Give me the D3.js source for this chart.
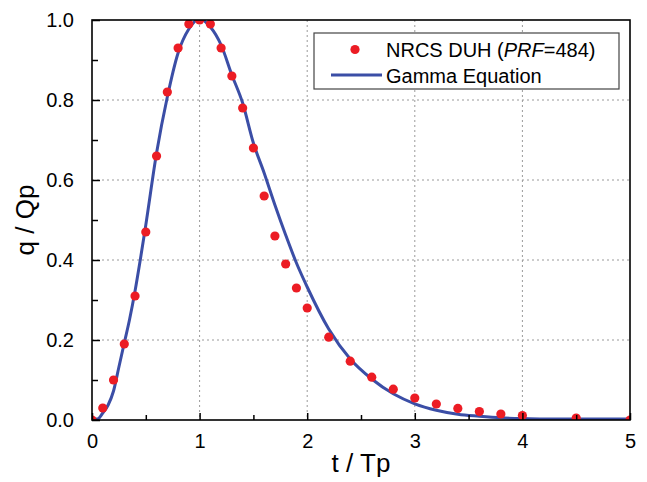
<!DOCTYPE html>
<html>
<head>
<meta charset="utf-8">
<script src="https://cdn.jsdelivr.net/npm/d3@7"></script>
<style>
  body { margin: 0; background: #fff; }
  text { font-family: "Liberation Sans", Arial, sans-serif; }
</style>
</head>
<body>
<div id="chart"></div>
<script>
// NRCS dimensionless unit hydrograph points
const duhT = [0, 0.1, 0.2, 0.3, 0.4, 0.5, 0.6, 0.7, 0.8, 0.9, 1.0, 1.1, 1.2, 1.3, 1.4, 1.5, 1.6, 1.7, 1.8, 1.9, 2.0,
              2.2, 2.4, 2.6, 2.8, 3.0, 3.2, 3.4, 3.6, 3.8, 4.0, 4.5, 5.0];
const duhQ = [0, 0.03, 0.10, 0.19, 0.31, 0.47, 0.66, 0.82, 0.93, 0.99, 1.00, 0.99, 0.93, 0.86, 0.78, 0.68, 0.56, 0.46, 0.39, 0.33, 0.28,
              0.207, 0.147, 0.107, 0.077, 0.055, 0.04, 0.029, 0.021, 0.015, 0.011, 0.005, 0];

// gamma equation curve
const gamT = [0, 0.05, 0.1, 0.15, 0.2, 0.25, 0.3, 0.35, 0.4, 0.45, 0.5, 0.6, 0.7, 0.8, 0.9, 1.0, 1.1, 1.2, 1.3, 1.4, 1.5,
              1.6, 1.7, 1.8, 1.9, 2.0, 2.2, 2.4, 2.6, 2.8, 3.0, 3.2, 3.4, 3.6, 3.8, 4.0, 4.2, 5.0];
const gamQ = [0, 0, 0.015, 0.035, 0.07, 0.13, 0.19, 0.25, 0.32, 0.40, 0.485, 0.665, 0.805, 0.915, 0.975, 1.0, 0.98, 0.935, 0.86, 0.79, 0.69,
              0.615, 0.535, 0.46, 0.39, 0.33, 0.225, 0.15, 0.10, 0.063, 0.038, 0.022, 0.012, 0.007, 0.003, 0.001, 0, 0];

const xTicks = [0, 1, 2, 3, 4, 5];
const yTicks = [0, 0.2, 0.4, 0.6, 0.8, 1.0];
const xMinor = [0.5, 1.5, 2.5, 3.5, 4.5];
const yMinor = [0.1, 0.3, 0.5, 0.7, 0.9];

const margin = { top: 20, right: 17, bottom: 62, left: 92 },
      width = 647 - margin.left - margin.right,
      height = 482 - margin.top - margin.bottom;

const svg = d3.select("#chart")
    .append("svg")
    .attr("width", 647)
    .attr("height", 482);

const g = svg.append("g")
    .attr("transform", `translate(${margin.left},${margin.top})`);

const x = d3.scaleLinear().domain([0, 5]).range([0, width]);
const y = d3.scaleLinear().domain([0, 1]).range([height, 0]);

// grid
g.append("g").selectAll("line")
    .data(xTicks.slice(1, -1))
    .join("line")
    .attr("x1", d => x(d)).attr("x2", d => x(d))
    .attr("y1", 0).attr("y2", height)
    .attr("stroke", "#9a9a9a").attr("stroke-width", 1)
    .attr("stroke-dasharray", "2,3");

g.append("g").selectAll("line")
    .data(yTicks.slice(1, -1))
    .join("line")
    .attr("y1", d => y(d)).attr("y2", d => y(d))
    .attr("x1", 0).attr("x2", width)
    .attr("stroke", "#9a9a9a").attr("stroke-width", 1)
    .attr("stroke-dasharray", "2,3");

// clip
svg.append("defs").append("clipPath").attr("id", "clip")
    .append("rect").attr("width", width).attr("height", height);

const plot = g.append("g").attr("clip-path", "url(#clip)");

// curve
const line = d3.line()
    .x((d, i) => x(gamT[i]))
    .y(d => y(d) - 1)
    .curve(d3.curveMonotoneX);

plot.append("path")
    .datum(gamQ)
    .attr("d", line)
    .attr("fill", "none")
    .attr("stroke", "#3b4ea6")
    .attr("stroke-width", 3);

// points
plot.selectAll("circle")
    .data(duhQ)
    .join("circle")
    .attr("cx", (d, i) => x(duhT[i]))
    .attr("cy", d => y(d))
    .attr("r", 4.6)
    .attr("fill", "#ec1c24");

// axes with inward ticks
g.append("g")
    .attr("transform", `translate(0,${height})`)
    .call(d3.axisBottom(x).tickValues(xMinor).tickSize(-5).tickFormat(""))
    .call(a => a.select(".domain").remove());

g.append("g")
    .attr("transform", `translate(0,${height})`)
    .call(d3.axisBottom(x).tickValues(xTicks).tickSize(-7).tickPadding(14).tickFormat(d3.format("d")))
    .call(a => a.select(".domain").remove());

g.append("g")
    .call(d3.axisLeft(y).tickValues(yMinor).tickSize(-6).tickFormat(""))
    .call(a => a.select(".domain").remove());

g.append("g")
    .call(d3.axisLeft(y).tickValues(yTicks).tickSize(-8).tickPadding(18).tickFormat(d3.format(".1f")))
    .call(a => a.select(".domain").remove());

g.selectAll(".tick line").attr("stroke", "#000").attr("stroke-width", 1.5);
g.selectAll(".tick text").style("font-size", "20px").attr("fill", "#000");

// frame
g.append("rect")
    .attr("width", width).attr("height", height)
    .attr("fill", "none").attr("stroke", "#000").attr("stroke-width", 1.6);

// axis titles
svg.append("text")
    .attr("x", margin.left + width / 2)
    .attr("y", 472)
    .attr("text-anchor", "middle")
    .style("font-size", "26px")
    .text("t / Tp");

svg.append("text")
    .attr("transform", `translate(34,${margin.top + height / 2}) rotate(-90)`)
    .attr("text-anchor", "middle")
    .style("font-size", "26px")
    .text("q / Qp");

// legend
const legend = svg.append("g");
legend.append("rect")
    .attr("x", 314).attr("y", 33)
    .attr("width", 305).attr("height", 56)
    .attr("fill", "#fff").attr("stroke", "#444").attr("stroke-width", 1.2);

legend.append("circle")
    .attr("cx", 355).attr("cy", 49.5).attr("r", 4.6)
    .attr("fill", "#ec1c24");

const t1 = legend.append("text")
    .attr("x", 386).attr("y", 57)
    .style("font-size", "20px");
t1.append("tspan").text("NRCS DUH (");
t1.append("tspan").style("font-style", "italic").text("PRF");
t1.append("tspan").text("=484)");

legend.append("line")
    .attr("x1", 331).attr("x2", 382)
    .attr("y1", 75).attr("y2", 75)
    .attr("stroke", "#3b4ea6").attr("stroke-width", 3);

legend.append("text")
    .attr("x", 386).attr("y", 83)
    .style("font-size", "20px")
    .text("Gamma Equation");
</script>
</body>
</html>
